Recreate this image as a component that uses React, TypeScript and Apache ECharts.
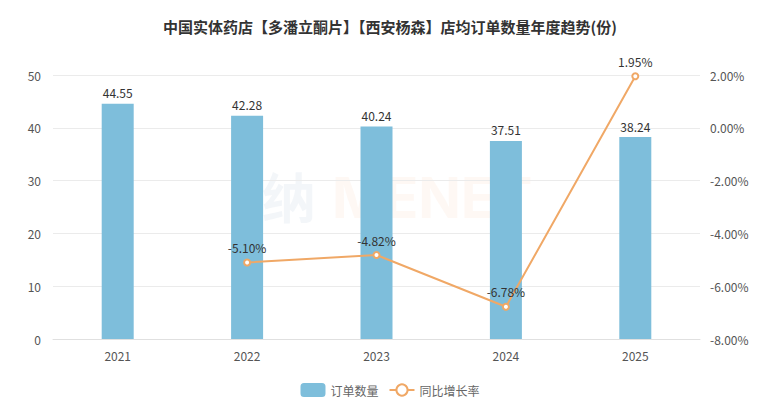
import React, { useEffect, useRef } from "react";
import * as echarts from "echarts";

const categories = ["2021", "2022", "2023", "2024", "2025"];
const orderCounts = [44.55, 42.28, 40.24, 37.51, 38.24];
const yoyGrowth: (number | null)[] = [null, -5.1, -4.82, -6.78, 1.95];
const titleText = "中国实体药店【多潘立酮片】【西安杨森】店均订单数量年度趋势(份)";

export default function App() {
  const ref = useRef<HTMLDivElement>(null);
  useEffect(() => {
    if (!ref.current) return;
    const chart = echarts.init(ref.current, null, { renderer: "svg" });
    const font = "'Microsoft YaHei', 'Noto Sans CJK SC', sans-serif";
    chart.setOption({
      animation: false,
      textStyle: { fontFamily: font },
      title: {
        text: titleText,
        left: "center",
        top: 14,
        textStyle: { fontSize: 15, fontWeight: "bold", color: "#333", fontFamily: font },
      },
      graphic: [
        {
          type: "text",
          left: 262,
          top: 168,
          z: 0,
          style: { text: "纳", fontSize: 54, fontWeight: "bold", fill: "rgba(120,160,190,0.09)", fontFamily: font },
        },
        {
          type: "text",
          left: 332,
          top: 170,
          z: 0,
          style: { text: "MENET", fontSize: 56, fontWeight: "bold", fill: "rgba(245,160,100,0.07)", fontFamily: "Inter, sans-serif" },
        },
      ],
      legend: {
        top: 378,
        left: "center",
        itemWidth: 25,
        itemHeight: 14,
        itemGap: 10,
        textStyle: { color: "#666", fontSize: 12, fontFamily: font },
        data: [{ name: "订单数量" }, { name: "同比增长率" }],
      },
      grid: { left: 53, right: 80, top: 75, bottom: 61 },
      xAxis: {
        type: "category",
        data: categories,
        axisTick: { show: false },
        axisLine: { lineStyle: { color: "#e0e0e0" } },
        axisLabel: { color: "#555", fontSize: 12, margin: 10 },
      },
      yAxis: [
        {
          type: "value",
          min: 0,
          max: 50,
          interval: 10,
          axisLine: { show: false },
          axisTick: { show: false },
          axisLabel: { color: "#555", fontSize: 12, margin: 12 },
          splitLine: { lineStyle: { color: "#ebebeb" } },
        },
        {
          type: "value",
          min: -8,
          max: 2,
          interval: 2,
          axisLine: { show: false },
          axisTick: { show: false },
          axisLabel: { color: "#555", fontSize: 12, margin: 10, formatter: (v: number) => v.toFixed(2) + "%" },
          splitLine: { show: false },
        },
      ],
      series: [
        {
          name: "订单数量",
          type: "bar",
          data: orderCounts,
          barWidth: 32,
          itemStyle: { color: "#7ebedb" },
          label: { show: true, position: "top", color: "#333", fontSize: 12, formatter: (p: any) => p.value.toFixed(2) },
        },
        {
          name: "同比增长率",
          type: "line",
          yAxisIndex: 1,
          data: yoyGrowth,
          symbol: "emptyCircle",
          symbolSize: 6,
          lineStyle: { color: "#f0a866", width: 2 },
          itemStyle: { color: "#f0a866", borderWidth: 2 },
          label: { show: true, position: "top", color: "#333", fontSize: 12, formatter: (p: any) => (p.value == null ? "" : p.value.toFixed(2) + "%") },
        },
      ],
    });
    return () => chart.dispose();
  }, []);
  return <div ref={ref} style={{ width: 780, height: 400, position: "absolute", left: 0, top: 0 }} />;
}
